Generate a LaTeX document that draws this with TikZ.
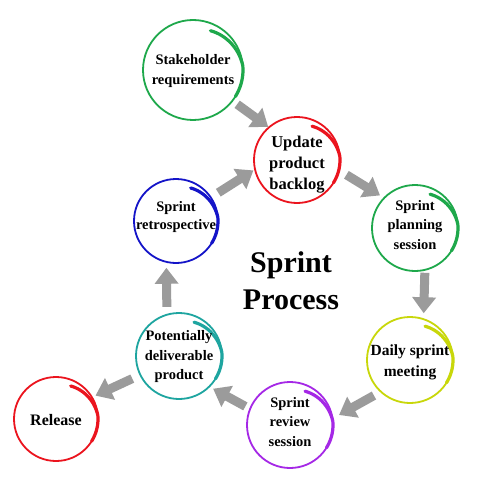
\documentclass[tikz,border=0pt]{standalone}
\usepackage{fontspec}
\setmainfont{Liberation Serif}
\usetikzlibrary{arrows.meta}
\definecolor{cgreen}{RGB}{30,168,75}
\definecolor{cred}{RGB}{235,20,30}
\definecolor{cblue}{RGB}{20,20,200}
\definecolor{cteal}{RGB}{30,165,160}
\definecolor{cyel}{RGB}{200,215,10}
\definecolor{cpurp}{RGB}{165,40,230}
\definecolor{agray}{RGB}{155,155,155}
\newcommand\swirl[3]{%
  \begin{scope}[shift={(#1.center)}]
    \draw[#3, line width=3.2pt, line cap=round]
      plot[smooth, domain=-32:66, samples=25]
      ({#2*(1.0-0.14*max(0,\x-5)/61)*cos(\x)}, {-#2*(1.0-0.14*max(0,\x-5)/61)*sin(\x)});
  \end{scope}}
\begin{document}
\begin{tikzpicture}[x=1pt,y=-1pt,
  ring/.style={circle, draw=#1, line width=1.8pt, inner sep=0pt, minimum size=86pt},
  lbl/.style={align=center, inner sep=0pt, font=\bfseries\fontsize{14.5}{19.5}\selectfont},
  flow/.style={draw=agray, line width=9pt, -{Triangle[width=23pt,length=16pt]}}]
\useasboundingbox[fill=white] (0,0) rectangle (486,500);
% rings
\node[ring=cgreen, minimum size=100pt] (S) at (193,70) {};
\node[ring=cred] (U) at (297,160) {};
\node[ring=cblue, minimum size=84pt] (R) at (176,221) {};
\node[ring=cgreen] (P) at (415,228) {};
\node[ring=cteal] (D) at (179,356) {};
\node[ring=cyel] (M) at (410,360) {};
\node[ring=cpurp] (V) at (290,425) {};
\node[ring=cred, minimum size=84pt] (L) at (56,419) {};
\swirl{S}{50}{cgreen}
\swirl{U}{43}{cred}
\swirl{R}{42}{cblue}
\swirl{P}{43}{cgreen}
\swirl{D}{43}{cteal}
\swirl{M}{43}{cyel}
\swirl{V}{43}{cpurp}
\swirl{L}{42}{cred}
% labels
\node[lbl, font=\bfseries\fontsize{14.5}{20}\selectfont] (St) at (193,71) {Stakeholder\\requirements};
\node[lbl, font=\bfseries\fontsize{16.5}{21}\selectfont] (Ut) at (297,165) {Update\\product\\backlog};
\node[lbl, font=\bfseries\fontsize{14.5}{18}\selectfont] (Rt) at (176,217) {Sprint\\retrospective};
\node[lbl] (Pt) at (415,225) {Sprint\\planning\\session};
\node[lbl] (Dt) at (179,357) {Potentially\\deliverable\\product};
\node[lbl, font=\bfseries\fontsize{15.5}{21}\selectfont] (Mt) at (410,362) {Daily sprint\\meeting};
\node[lbl] (Vt) at (290,422) {Sprint\\review\\session};
\node[lbl, font=\bfseries\fontsize{16}{20}\selectfont] (Lt) at (56,420) {Release};
\node[align=center, inner sep=0pt, font=\bfseries\fontsize{30}{37}\selectfont] (T) at (291,281) {Sprint\\Process};
% arrows
\draw[flow, shorten <=5pt] (S.-38.5) -- (U.131);
\draw[flow, shorten <=8pt, shorten >=4pt] (U.-14.6) -- (P.136.7);
\draw[flow, shorten <=2pt, shorten >=5pt] (P.-77.5) -- (M.72.3);
\draw[flow, shorten <=7pt, shorten >=6.5pt] (M.-133.4) -- (V.9);
\draw[flow, shorten <=4.5pt, shorten >=3.5pt] (V.158.2) -- (D.-45.9);
\draw[flow, shorten <=8pt, shorten >=3pt] (D.-154.9) -- (L.31.6);
\draw[flow, shorten <=7pt, shorten >=5pt] (D.106) -- (R.-103);
\draw[flow, shorten <=8pt, shorten >=1pt] (R.34.6) -- (U.-167);
\end{tikzpicture}
\end{document}
